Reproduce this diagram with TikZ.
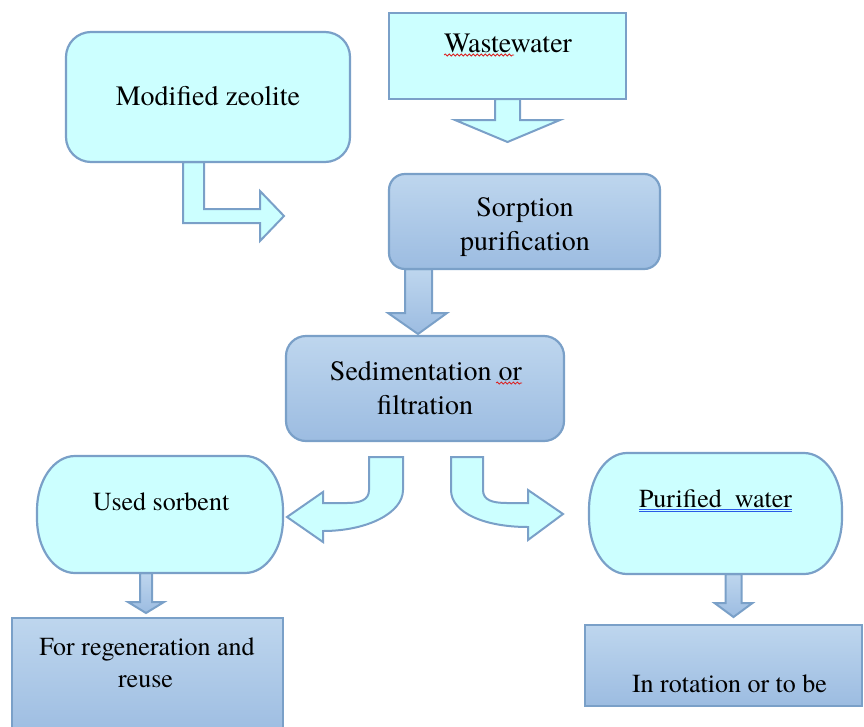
\documentclass[tikz,border=0pt]{standalone}
\usepackage{fontspec}
\setmainfont{TeX Gyre Termes}
\usetikzlibrary{calc,decorations.pathmorphing}
\pgfdeclarelayer{background}
\pgfsetlayers{background,main}
\definecolor{cyanfill}{RGB}{204,255,255}
\definecolor{bord}{RGB}{122,160,200}
\definecolor{bluetop}{RGB}{190,214,238}
\definecolor{bluebot}{RGB}{156,188,225}
\definecolor{squig}{RGB}{220,30,30}
\definecolor{gramblue}{RGB}{40,90,230}
\tikzset{
 every node/.style={inner sep=0pt, outer sep=0pt},
 cbox/.style={draw=bord, line width=2.2pt, fill=cyanfill},
 bbox/.style={draw=bord, line width=2.2pt, top color=bluetop, bottom color=bluebot},
 ghost/.style={draw=none, fill=none},
 carrow/.style={draw=bord, line width=2pt, fill=cyanfill, line join=miter},
 barrow/.style={draw=bord, line width=2pt, top color=bluetop, bottom color=bluebot, line join=miter},
 bigtxt/.style={font=\fontsize{28}{34}\selectfont, anchor=base},
 smalltxt/.style={font=\fontsize{26}{31}\selectfont, anchor=base},
 spellmark/.style={draw=squig, line width=0.8pt, decorate, decoration={snake, segment length=4pt, amplitude=1pt}},
 grammark/.style={draw=gramblue, line width=0.9pt},
}
\newcommand\pillat[5]{%
 \begin{scope}[shift={(#1.center)}]
 \draw[cbox] ({-#2+#4},{-#3}) -- ({#2-#4},{-#3})
  .. controls ({#2-0.448*#4},{-#3}) and ({#2},{-#3+0.448*#5}) .. ({#2},{-#3+#5})
  -- ({#2},{#3-#5})
  .. controls ({#2},{#3-0.448*#5}) and ({#2-0.448*#4},{#3}) .. ({#2-#4},{#3})
  -- ({-#2+#4},{#3})
  .. controls ({-#2+0.448*#4},{#3}) and ({-#2},{#3-0.448*#5}) .. ({-#2},{#3-#5})
  -- ({-#2},{-#3+#5})
  .. controls ({-#2},{-#3+0.448*#5}) and ({-#2+0.448*#4},{-#3}) .. ({-#2+#4},{-#3})
  -- cycle;
 \end{scope}}
\begin{document}
\begin{tikzpicture}[x=1pt,y=-1pt]
\useasboundingbox (0,0) rectangle (864,726);
\clip (0,0) rectangle (864,726);

% boxes
\node[cbox, rounded corners=25pt, minimum width=284pt, minimum height=130pt] (zeo) at (208,97) {};
\node[cbox, minimum width=237pt, minimum height=86pt] (ww) at (507.5,56) {};
\node[bbox, rounded corners=16pt, minimum width=271pt, minimum height=95pt] (sorp) at (524.5,221.5) {};
\node[bbox, rounded corners=20pt, minimum width=278pt, minimum height=105pt] (sed) at (425,388.5) {};
\node[ghost, minimum width=246pt, minimum height=117pt] (used) at (160,514.5) {};
\node[ghost, minimum width=253pt, minimum height=121pt] (pur) at (715.5,513.5) {};
\node[bbox, minimum width=271pt, minimum height=122pt] (regen) at (147.5,679) {};
\node[bbox, minimum width=277pt, minimum height=81pt] (rot) at (723.5,665.5) {};

\pillat{used}{123}{58.5}{38}{54}
\pillat{pur}{126.5}{60.5}{38}{56}

% block arrows
\begin{pgfonlayer}{background}
\begin{scope}[shift={(zeo.south)}]
 \draw[carrow] (-25,0) -- (-4,0) -- (-4,47) -- (52,47) -- (52,29) -- (76,54) -- (52,79) -- (52,61) -- (-25,61) -- cycle;
\end{scope}
\begin{scope}[shift={(ww.south)}]
 \draw[carrow] (-12.5,0) -- (12.5,0) -- (12.5,21) -- (52.5,21) -- (0,43) -- (-52.5,21) -- (-12.5,21) -- cycle;
\end{scope}
\begin{scope}[shift={(sed.north)}]
 \draw[barrow] (-20,-67) -- (7,-67) -- (7,-23) -- (22,-23) -- (-7,-2) -- (-37,-23) -- (-20,-23) -- cycle;
\end{scope}
\begin{scope}[shift={(sed.south)}]
 \draw[carrow] (-22,16) -- (-22,49) .. controls (-22,72) and (-58,90) .. (-102,90) -- (-102,101) -- (-138,76) -- (-102,51) -- (-102,62) -- (-78,62) .. controls (-65,62) and (-56,59) .. (-56,49) -- (-56,16) -- cycle;
 \draw[carrow] (26,16) -- (26,49) .. controls (26,72) and (60,86) .. (103,86) -- (103,99) -- (138,73) -- (103,49) -- (103,62) -- (82,62) .. controls (67,62) and (58,59) .. (58,49) -- (58,16) -- cycle;
\end{scope}
\begin{scope}[shift={(used.south)}]
 \draw[barrow] (-20,0) -- (-8,0) -- (-8,29) -- (4,29) -- (-14,40) -- (-32,29) -- (-20,29) -- cycle;
\end{scope}
\begin{scope}[shift={(pur.south)}]
 \draw[barrow] (10,0) -- (26,0) -- (26,29) -- (37,29) -- (18,43) -- (-1,29) -- (10,29) -- cycle;
\end{scope}
\end{pgfonlayer}

% texts
\node[bigtxt] (t1) at (208,105) {Modified zeolite};
\node[bigtxt] (t2) at (508,52) {Wastewater};
\node[bigtxt] (t3) at (525,216) {Sorption};
\node[bigtxt] (t4) at (525,250) {purification};
\node[bigtxt] (t5) at (426,380) {Sedimentation or};
\node[bigtxt] (t6) at (425,414) {filtration};
\node[smalltxt] (t7) at (161,510) {Used sorbent};
\node[smalltxt] (t8) at (147,655) {For regeneration and};
\node[smalltxt] (t9) at (145.5,687) {reuse};
\node[smalltxt] (t10) at (715.5,507) {Purified\ \ water};
\node[smalltxt] (t11) at (729.5,692) {In rotation or to be};

% proofing marks
\draw[spellmark] ($(t2.base west)+(0,3)$) -- ($(t2.base west)+(70,3)$);
\draw[spellmark] ($(t5.base east)+(-26,3)$) -- ($(t5.base east)+(0,3)$);
\draw[grammark] ($(t10.base west)+(0,2)$) -- ($(t10.base east)+(0,2)$);
\draw[grammark] ($(t10.base west)+(0,4.5)$) -- ($(t10.base east)+(0,4.5)$);
\end{tikzpicture}
\end{document}
